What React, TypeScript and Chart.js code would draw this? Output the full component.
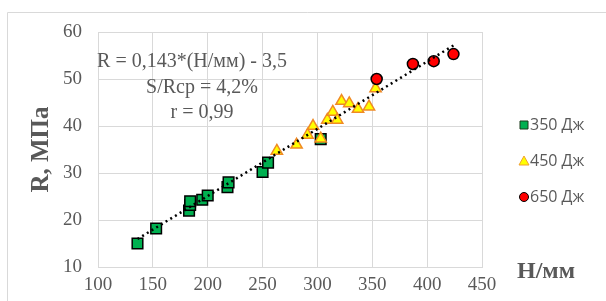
import React, { useEffect, useRef } from "react";
import { Chart, registerables } from "chart.js";

Chart.register(...registerables);

// Data
const seriesNames = ["350 Дж", "450 Дж", "650 Дж"];
const h350 = [136, 153, 183, 184, 184, 195, 200, 218, 219, 250, 255, 303];
const r350 = [15, 18.2, 22, 23.2, 24, 24.3, 25.2, 27, 28, 30.2, 32.2, 37.2];
const h450 = [263, 281, 291, 296, 303, 309, 314, 318, 322, 329, 337, 347, 353];
const r450 = [34.7, 36, 38.1, 40, 37.3, 41.3, 43, 41.3, 45.3, 44.8, 43.6, 44.1, 48];
const h650 = [354, 387, 406, 424];
const r650 = [50, 53.2, 53.8, 55.3];
const trendH = [136, 426];
const slope = 0.143;
const intercept = -3.5;
const trendR = trendH.map((h) => slope * h + intercept);
const xTicks = [100, 150, 200, 250, 300, 350, 400, 450];
const yTicks = [10, 20, 30, 40, 50, 60];
const annotationLines = ["R = 0,143*(Н/мм) - 3,5", "S/Rcp = 4,2%", "r = 0,99"];
const yTitle = "R, МПа";
const xTitle = "Н/мм";

const toPts = (xs: number[], ys: number[]) => xs.map((x, i) => ({ x, y: ys[i] }));

const GRID = "#d9d9d9";
const TEXT = "#595959";

const decorPlugin = {
  id: "decor",
  beforeDraw(chart: any) {
    const ctx = chart.ctx;
    ctx.save();
    ctx.strokeStyle = GRID;
    ctx.lineWidth = 1;
    ctx.beginPath();
    ctx.moveTo(7.5, 320);
    ctx.lineTo(7.5, 12.5);
    ctx.lineTo(620, 12.5);
    ctx.stroke();
    ctx.restore();
  },
  afterDraw(chart: any) {
    const ctx = chart.ctx;
    const ca = chart.chartArea;
    ctx.save();
    // annotation text
    ctx.fillStyle = TEXT;
    ctx.font = '20px "Liberation Serif"';
    ctx.textAlign = "center";
    ctx.textBaseline = "middle";
    const cx = ca.left + 104;
    annotationLines.forEach((t, i) => {
      ctx.fillText(t, i === 0 ? cx - 10 : cx, ca.top + 30 + i * 25.5);
    });
    // axis titles
    ctx.fillStyle = TEXT;
    ctx.font = 'bold 25px "Liberation Serif"';
    ctx.save();
    ctx.translate(42, (ca.top + ca.bottom) / 2);
    ctx.rotate(-Math.PI / 2);
    ctx.fillText(yTitle, 0, 0);
    ctx.restore();
    ctx.font = 'bold 24px "Liberation Serif"';
    ctx.textAlign = "left";
    ctx.fillText(xTitle, ca.right + 35, ca.bottom + 5);
    // legend
    const ds = chart.data.datasets
      .filter((d: any) => d.legendLabel)
      .sort((a: any, b: any) => a.legendIndex - b.legendIndex);
    ctx.font = '16px "Open Sans"';
    ctx.textAlign = "left";
    ctx.textBaseline = "middle";
    ds.forEach((d: any, i: number) => {
      const y = 125 + i * 36;
      const mx = 524;
      ctx.fillStyle = d.backgroundColor;
      ctx.strokeStyle = d.legendBorder;
      ctx.lineWidth = 1;
      ctx.beginPath();
      if (d.pointStyle === "rect") {
        ctx.rect(mx - 4, y - 4, 8, 8);
      } else if (d.pointStyle === "triangle") {
        ctx.moveTo(mx, y - 5);
        ctx.lineTo(mx + 5, y + 4);
        ctx.lineTo(mx - 5, y + 4);
        ctx.closePath();
      } else {
        ctx.arc(mx, y, 4.5, 0, Math.PI * 2);
      }
      ctx.fill();
      ctx.stroke();
      ctx.fillStyle = TEXT;
      ctx.fillText(d.legendLabel, mx + 6, y);
    });
    ctx.restore();
  },
};

export default function App() {
  const ref = useRef<HTMLCanvasElement>(null);
  useEffect(() => {
    if (!ref.current) return;
    const tickFont = { family: '"Liberation Serif"', size: 19 };
    const chart = new Chart(ref.current, {
      type: "scatter",
      data: {
        datasets: [
          {
            type: "line",
            data: toPts(trendH, trendR),
            borderColor: "#000000",
            borderWidth: 2.5,
            borderDash: [2, 3.5],
            pointRadius: 0,
            fill: false,
            order: 0,
          } as any,
          {
            legendLabel: seriesNames[2],
            legendIndex: 2,
            legendBorder: "#000000",
            data: toPts(h650, r650),
            pointStyle: "circle",
            pointRadius: 5.5,
            backgroundColor: "#ff0000",
            borderColor: "#000000",
            borderWidth: 1.5,
            order: 1,
          } as any,
          {
            legendLabel: seriesNames[1],
            legendIndex: 1,
            legendBorder: "#f0a030",
            data: toPts(h450, r450),
            pointStyle: "triangle",
            pointRadius: 6.5,
            backgroundColor: "#ffff00",
            borderColor: "#f08a24",
            borderWidth: 1.5,
            order: 2,
          } as any,
          {
            legendLabel: seriesNames[0],
            legendIndex: 0,
            legendBorder: "#1a3a1a",
            data: toPts(h350, r350),
            pointStyle: "rect",
            pointRadius: 7.5,
            backgroundColor: "#00b050",
            borderColor: "#000000",
            borderWidth: 1.5,
            order: 3,
          } as any,
        ],
      },
      options: {
        animation: false,
        responsive: false,
        layout: { padding: { left: 0, right: 124, top: 32, bottom: 0 } },
        plugins: { legend: { display: false }, tooltip: { enabled: false } },
        scales: {
          x: {
            type: "linear",
            min: xTicks[0],
            max: xTicks[xTicks.length - 1],
            afterBuildTicks: (s: any) => {
              s.ticks = xTicks.map((v) => ({ value: v }));
            },
            afterFit: (s: any) => {
              s.height = 34;
            },
            ticks: { font: tickFont, color: TEXT, padding: 7 },
            grid: { color: GRID, drawTicks: false },
            border: { color: GRID },
          },
          y: {
            type: "linear",
            min: yTicks[0],
            max: yTicks[yTicks.length - 1],
            afterBuildTicks: (s: any) => {
              s.ticks = yTicks.map((v) => ({ value: v }));
            },
            afterFit: (s: any) => {
              s.width = 98;
            },
            ticks: { font: tickFont, color: TEXT, padding: 16 },
            grid: { color: GRID, drawTicks: false },
            border: { color: GRID },
          },
        },
      } as any,
      plugins: [decorPlugin],
    });
    return () => chart.destroy();
  }, []);
  return (
    <div style={{ position: "absolute", left: 0, top: 0, width: 606, height: 301, background: "#fff" }}>
      <canvas ref={ref} width={606} height={301} style={{ width: 606, height: 301 }} />
    </div>
  );
}
